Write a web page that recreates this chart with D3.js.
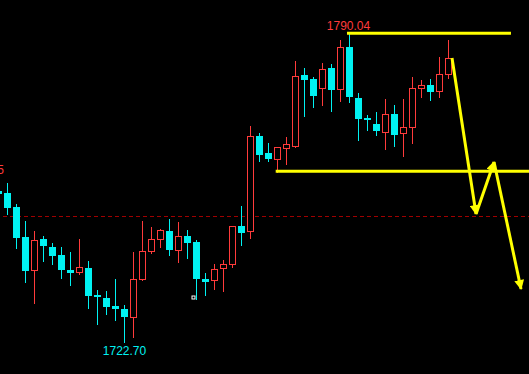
<!DOCTYPE html>
<html>
<head>
<meta charset="utf-8">
<script src="https://cdn.jsdelivr.net/npm/d3@7"></script>
<style>
  html, body { margin: 0; padding: 0; background: #000; overflow: hidden; }
  svg { display: block; }
</style>
</head>
<body>
<script>
// Width og height til SVG
const w = 529;
const h = 374;

// Candle data (open, high, low, close), one entry per bar
const opens = [1755.83, 1755.39, 1752.34, 1745.80, 1738.46, 1745.36, 1743.62, 1741.88, 1738.61, 1737.96,
  1739.04, 1733.16, 1732.51, 1730.76, 1730.11, 1728.21, 1736.43, 1742.53, 1745.15, 1747.11,
  1742.75, 1746.02, 1744.71, 1736.65, 1736.21, 1738.83, 1739.70, 1748.20, 1746.89, 1767.81,
  1764.11, 1762.58, 1764.98, 1765.41, 1781.10, 1780.23, 1778.05, 1782.63, 1777.84, 1787.21,
  1776.09, 1771.73, 1770.43, 1768.47, 1772.61, 1768.25, 1769.55, 1778.12, 1778.93, 1777.40, 1781.10];
const highs = [1755.83, 1757.57, 1752.99, 1749.29, 1747.11, 1746.02, 1744.49, 1743.62, 1742.53, 1745.36,
  1740.57, 1734.25, 1734.03, 1736.65, 1730.98, 1742.53, 1749.29, 1747.98, 1747.54, 1749.72,
  1749.07, 1747.33, 1745.15, 1737.96, 1739.92, 1740.79, 1748.20, 1752.56, 1769.99, 1768.47,
  1766.29, 1765.41, 1767.59, 1784.16, 1782.63, 1780.67, 1783.72, 1783.50, 1788.73, 1790.04,
  1777.18, 1772.39, 1773.04, 1775.87, 1774.57, 1775.87, 1780.67, 1780.02, 1780.23, 1785.03, 1788.73];
const lows = [1755.17, 1750.59, 1743.19, 1735.78, 1731.20, 1740.35, 1739.70, 1736.65, 1735.12, 1737.52,
  1730.11, 1726.62, 1728.80, 1727.49, 1722.70, 1723.79, 1736.21, 1742.10, 1743.40, 1741.66,
  1740.13, 1741.01, 1732.07, 1732.94, 1734.25, 1733.81, 1739.04, 1743.84, 1745.36, 1762.15,
  1762.15, 1759.75, 1761.49, 1765.20, 1771.95, 1773.91, 1774.35, 1773.04, 1775.22, 1775.00,
  1766.72, 1768.90, 1767.81, 1764.76, 1765.41, 1763.23, 1766.07, 1776.09, 1775.44, 1776.09, 1780.23];
const closes = [1755.17, 1752.19, 1745.65, 1738.46, 1745.15, 1743.84, 1741.66, 1738.61, 1737.96, 1739.26,
  1732.94, 1732.72, 1730.55, 1730.11, 1728.37, 1736.65, 1742.75, 1745.36, 1747.33, 1742.97,
  1746.02, 1744.49, 1736.65, 1735.99, 1738.83, 1739.92, 1748.20, 1746.67, 1767.81, 1763.67,
  1762.80, 1765.41, 1766.07, 1780.89, 1780.02, 1776.53, 1782.41, 1777.84, 1787.21, 1776.31,
  1771.52, 1771.30, 1768.90, 1772.61, 1768.03, 1769.77, 1778.27, 1778.93, 1777.40, 1781.32, 1784.81];

// Price levels and labels
const maxPrice = 1790.04;
const minPrice = 1722.70;
const prevClose = 1750.31;
const supportLevel = 1760.12;
const leftLabel = "1760.45";

// Drawn lines: [index, price]
const supportLine = [[30.8, supportLevel], [59, supportLevel]];
const topLine = [[38.72, 1790.19], [56.94, 1790.19]];
const arrowPath = [[50.39, 1784.81], [53.06, 1750.81], [55.06, 1762.15], [58.06, 1734.47]];

const candles = opens.map(function (o, i) {
  return { i: i, o: o, h: highs[i], l: lows[i], c: closes[i] };
});

const upColor = "#ff3b3b";
const downColor = "#00f2f2";

const svg = d3.select("body").append("svg").attr("width", w).attr("height", h)
  .style("background", "#000");

// Skaleringsfunktioner
const xScale = d3.scaleLinear().domain([0, 50]).range([-1.5, 448.5]);
const yScale = d3.scaleLinear().domain([minPrice, maxPrice]).range([343, 34]);

const bodyW = 7;

// previous close, dashed
svg.append("line")
  .attr("x1", 3).attr("x2", w)
  .attr("y1", Math.round(yScale(prevClose)) + 0.5)
  .attr("y2", Math.round(yScale(prevClose)) + 0.5)
  .attr("stroke", "#a00000")
  .attr("stroke-dasharray", "4,3");

// wicks
svg.selectAll("line.wick")
  .data(candles)
  .enter()
  .append("line")
  .attr("class", "wick")
  .attr("x1", function (d) { return xScale(d.i); })
  .attr("x2", function (d) { return xScale(d.i); })
  .attr("y1", function (d) { return Math.round(yScale(d.h)); })
  .attr("y2", function (d) { return Math.round(yScale(d.l)); })
  .attr("stroke", function (d) { return d.c >= d.o ? upColor : downColor; })
  .attr("stroke-width", 1);

// bodies - up = red hollow, down = cyan filled
svg.selectAll("rect.body")
  .data(candles)
  .enter()
  .append("rect")
  .attr("class", "body")
  .attr("x", function (d) {
    const left = xScale(d.i) - bodyW / 2;
    return d.c >= d.o ? left + 0.5 : left;
  })
  .attr("y", function (d) {
    const top = Math.round(yScale(Math.max(d.o, d.c)));
    return d.c >= d.o ? top + 0.5 : top;
  })
  .attr("width", function (d) { return d.c >= d.o ? bodyW - 1 : bodyW; })
  .attr("height", function (d) {
    const top = Math.round(yScale(Math.max(d.o, d.c)));
    const bot = Math.round(yScale(Math.min(d.o, d.c)));
    const hh = Math.max(bot - top, 2);
    return d.c >= d.o ? hh - 1 : hh;
  })
  .attr("fill", function (d) { return d.c >= d.o ? "#000" : downColor; })
  .attr("stroke", function (d) { return d.c >= d.o ? upColor : "none"; })
  .attr("stroke-width", 1);

// small white marker under the bars
svg.append("rect")
  .attr("x", 192).attr("y", 296).attr("width", 3).attr("height", 3)
  .attr("fill", "none").attr("stroke", "#fff").attr("stroke-width", 1);

// yellow levels
const line = d3.line()
  .x(function (d) { return xScale(d[0]); })
  .y(function (d) { return yScale(d[1]); });

svg.append("path").attr("d", line(supportLine))
  .attr("stroke", "#ffff00").attr("stroke-width", 3).attr("fill", "none");
svg.append("path").attr("d", line(topLine))
  .attr("stroke", "#ffff00").attr("stroke-width", 3).attr("fill", "none");

// arrows
svg.append("defs").append("marker")
  .attr("id", "head")
  .attr("viewBox", "0 0 10 10")
  .attr("refX", 9).attr("refY", 5)
  .attr("markerWidth", 3.5).attr("markerHeight", 3.3)
  .attr("markerUnits", "strokeWidth")
  .attr("orient", "auto")
  .append("path")
  .attr("d", "M0,0L10,5L0,10Z")
  .attr("fill", "#ffff00");

for (let k = 0; k < arrowPath.length - 1; k++) {
  svg.append("path")
    .attr("d", line([arrowPath[k], arrowPath[k + 1]]))
    .attr("stroke", "#ffff00")
    .attr("stroke-width", 3)
    .attr("fill", "none")
    .attr("marker-end", "url(#head)");
}

// price labels
svg.append("text")
  .attr("x", xScale(39) - 1).attr("y", yScale(maxPrice) - 4)
  .attr("text-anchor", "middle")
  .style("font-family", "'Liberation Sans', Arial, sans-serif")
  .style("font-size", "12px")
  .attr("fill", upColor)
  .text(maxPrice.toFixed(2));

svg.append("text")
  .attr("x", xScale(14)).attr("y", yScale(minPrice) + 12)
  .attr("text-anchor", "middle")
  .style("font-family", "'Liberation Sans', Arial, sans-serif")
  .style("font-size", "12px")
  .attr("fill", downColor)
  .text(minPrice.toFixed(2));

// left edge price label, cut off by the edge as in the source chart
svg.append("text")
  .attr("x", 4).attr("y", Math.round(yScale(supportLevel)) + 3)
  .attr("text-anchor", "end")
  .style("font-family", "'Liberation Sans', Arial, sans-serif")
  .style("font-size", "12px")
  .attr("fill", upColor)
  .text(leftLabel);
</script>
</body>
</html>
